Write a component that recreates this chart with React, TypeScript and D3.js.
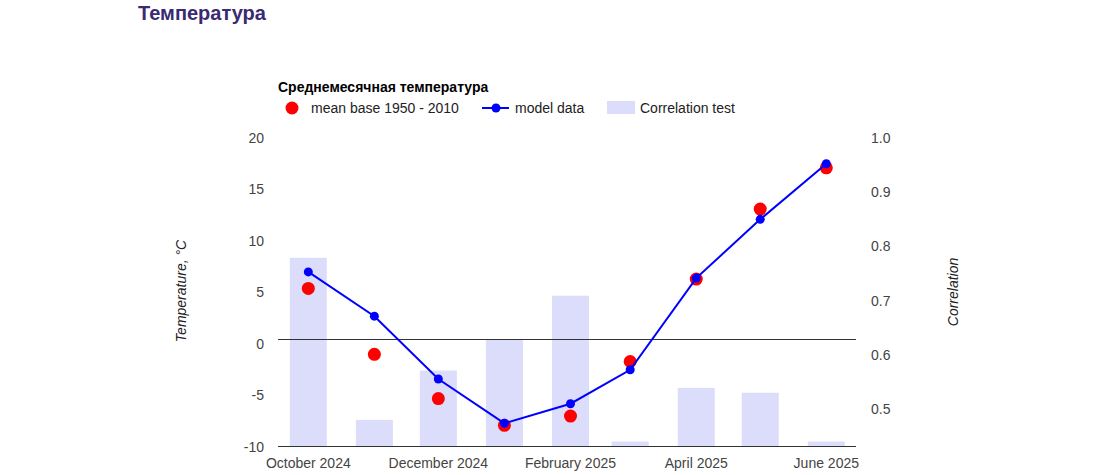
import React from "react";
import * as d3 from "d3";

const months = ["2024-10-01", "2024-11-01", "2024-12-01", "2025-01-01", "2025-02-01", "2025-03-01", "2025-04-01", "2025-05-01", "2025-06-01"];
const tickMonths = ["2024-10-01", "2024-12-01", "2025-02-01", "2025-04-01", "2025-06-01"];
const meanBase = [5.4, -1.0, -5.3, -7.9, -7.0, -1.7, 6.3, 13.1, 17.1];
const modelData = [7.0, 2.7, -3.4, -7.7, -5.8, -2.5, 6.4, 12.1, 17.5];
const correlation = [0.779, 0.48, 0.571, 0.629, 0.709, 0.44, 0.539, 0.53, 0.44];
const tempTicks = [20, 15, 10, 5, 0, -5, -10];
const corrTicks = [1.0, 0.9, 0.8, 0.7, 0.6, 0.5];

const FONT = "Arial, 'Liberation Sans', sans-serif";
const parse = d3.utcParse("%Y-%m-%d");
const fmt = d3.utcFormat("%B %Y");

export default function App() {
  const W = 1118, H = 475;
  const dates = months.map((m) => parse(m)!);
  const x = d3.scaleUtc().domain([dates[0], dates[dates.length - 1]]).range([308.3, 826.3]);
  const yT = d3.scaleLinear().domain([-10, 20]).range([447, 138]);
  const yC = d3.scaleLinear().domain([1.0, 0.5]).range([138, 409]);
  const bottom = 446;
  const barW = 37;
  const line = d3.line<number>().x((_, i) => x(dates[i])).y((d) => yT(d));

  return (
    <svg width={W} height={H} style={{ position: "absolute", left: 0, top: 0, fontFamily: FONT }}>
      <rect width={W} height={H} fill="#fff" />
      <text x={138} y={20} fontSize={20} fontWeight="bold" fill="#3a2a72">Температура</text>

      {/* legend */}
      <text x={278} y={92} fontSize={14} fontWeight="bold" fill="#000">Среднемесячная температура</text>
      <circle cx={292} cy={108} r={6.5} fill="#ff0000" />
      <text x={311} y={113} fontSize={14} fill="#222">mean base 1950 - 2010</text>
      <line x1={482} x2={509} y1={108} y2={108} stroke="#0000ff" strokeWidth={2} />
      <circle cx={496} cy={108} r={4.5} fill="#0000ff" />
      <text x={515} y={113} fontSize={14} fill="#222">model data</text>
      <rect x={607} y={101} width={28} height={13} fill="#dcdcfb" />
      <text x={640} y={113} fontSize={14} fill="#222">Correlation test</text>

      {/* bars */}
      {correlation.map((c, i) => (
        <rect key={months[i]} x={x(dates[i]) - barW / 2} y={yC(c)} width={barW} height={bottom - yC(c)} fill="#dcdcfb" />
      ))}

      {/* baselines */}
      <line x1={278} x2={856} y1={339.5} y2={339.5} stroke="#333" strokeWidth={1} />
      <line x1={278} x2={856} y1={bottom + 0.5} y2={bottom + 0.5} stroke="#333" strokeWidth={1} />

      {/* left ticks */}
      {tempTicks.map((t) => (
        <text key={t} x={264} y={yT(t)} dy="0.35em" textAnchor="end" fontSize={14} fill="#444">{t}</text>
      ))}
      {/* right ticks */}
      {corrTicks.map((t) => (
        <text key={t} x={871} y={yC(t)} dy="0.35em" textAnchor="start" fontSize={14} fill="#444">{t.toFixed(1)}</text>
      ))}
      {/* x labels */}
      {tickMonths.map((m) => {
        const d = parse(m)!;
        return (
          <text key={m} x={x(d)} y={468} textAnchor="middle" fontSize={14} fill="#444">{fmt(d)}</text>
        );
      })}

      {/* axis titles */}
      <text transform="translate(186,291) rotate(-90)" textAnchor="middle" fontSize={14} fontStyle="italic" fill="#222">Temperature, °C</text>
      <text transform="translate(958,292) rotate(-90)" textAnchor="middle" fontSize={14} fontStyle="italic" fill="#222">Correlation</text>

      {/* mean base points */}
      {meanBase.map((v, i) => (
        <circle key={"m" + i} cx={x(dates[i])} cy={yT(v)} r={6.5} fill="#ff0000" />
      ))}
      {/* model line */}
      <path d={line(modelData)!} fill="none" stroke="#0000ff" strokeWidth={2} />
      {modelData.map((v, i) => (
        <circle key={"d" + i} cx={x(dates[i])} cy={yT(v)} r={4.5} fill="#0000ff" />
      ))}
    </svg>
  );
}
